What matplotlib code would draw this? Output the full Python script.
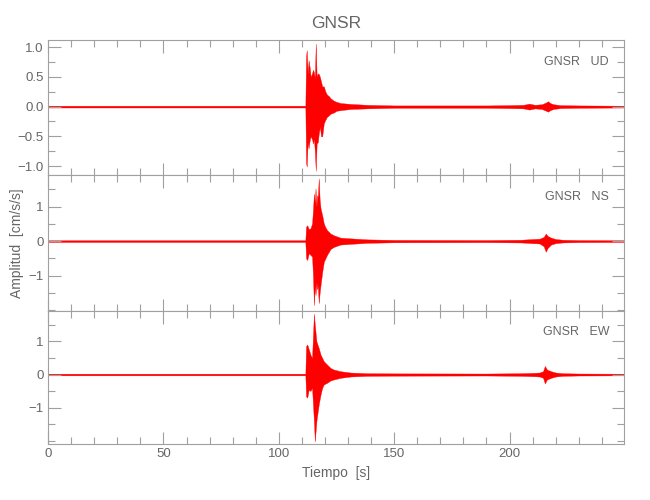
import matplotlib
matplotlib.use("Agg")
import matplotlib.pyplot as plt
from matplotlib.ticker import MultipleLocator, FixedLocator

# envelope of each trace (time [s], upper, lower)
ud_t = [0, 50, 100, 111.5, 111.8, 112.1, 112.5, 112.9, 113.4, 113.8, 114.4, 114.8, 115.2, 115.6,
        116.0, 116.4, 116.9, 117.3, 117.8, 118.3, 118.8, 119.5, 120.2, 120.9, 121.6, 122.4, 123.8,
        125.0, 126.7, 131.1, 138.3, 150, 190, 200, 206, 208.5, 211, 214, 215.8, 216.7, 217.6, 219,
        222, 230, 250]
ud_up = [0.015, 0.015, 0.015, 0.015, 0.85, 0.95, 0.55, 0.78, 0.65, 0.50, 0.56, 0.62, 0.58, 0.48,
         1.06, 0.50, 0.56, 0.55, 0.50, 0.42, 0.34, 0.34, 0.25, 0.20, 0.18, 0.14, 0.10,
         0.08, 0.06, 0.045, 0.03, 0.02, 0.02, 0.025, 0.03, 0.05, 0.03, 0.04, 0.07, 0.09, 0.06, 0.04,
         0.025, 0.02, 0.015]
ud_lo = [-0.015, -0.015, -0.015, -0.015, -0.95, -1.01, -0.60, -0.70, -0.56, -0.50, -0.55, -0.62, -0.55, -0.75,
         -1.08, -0.62, -0.60, -0.45, -0.34, -0.50, -0.50, -0.28, -0.22, -0.17, -0.15, -0.12, -0.10,
         -0.07, -0.06, -0.04, -0.03, -0.02, -0.02, -0.025, -0.03, -0.05, -0.03, -0.04, -0.07, -0.085, -0.06, -0.04,
         -0.025, -0.02, -0.015]

ns_t = [0, 50, 100, 111.5, 111.8, 112.3, 113.0, 113.7, 114.4, 114.8, 115.2, 115.6, 115.9, 116.3,
        116.6, 116.9, 117.3, 117.7, 118.1, 118.8, 119.5, 120.2, 120.9, 122.4, 123.8, 126.7, 131.1,
        138.3, 150, 190, 205, 210, 213, 214.8, 215.7, 216.5, 218, 220, 223, 230, 250]
ns_up = [0.025, 0.025, 0.025, 0.025, 0.42, 0.46, 0.35, 0.37, 0.51, 0.90, 1.38, 1.10, 1.53, 1.00,
         1.33, 1.30, 1.82, 1.20, 0.95, 0.75, 0.51, 0.40, 0.32, 0.22, 0.17, 0.10, 0.08,
         0.05, 0.035, 0.03, 0.04, 0.06, 0.07, 0.12, 0.22, 0.15, 0.10, 0.06, 0.04, 0.03, 0.025]
ns_lo = [-0.025, -0.025, -0.025, -0.025, -0.50, -0.55, -0.35, -0.40, -0.45, -1.00, -1.86, -1.30, -1.57, -1.20,
         -1.40, -1.30, -1.80, -1.50, -1.27, -0.90, -0.60, -0.50, -0.40, -0.23, -0.17, -0.10, -0.08,
         -0.05, -0.035, -0.03, -0.04, -0.06, -0.07, -0.15, -0.31, -0.20, -0.10, -0.06, -0.04, -0.03, -0.025]

ew_t = [0, 50, 100, 111.5, 111.8, 112.3, 113.0, 113.7, 114.4, 115.2, 115.6, 116.3, 117.3, 118.1,
        118.8, 119.5, 120.9, 122.4, 123.8, 126.7, 131.1, 138.3, 150, 190, 205, 210, 213, 214.5,
        215.3, 216.2, 218, 220, 223, 230, 250]
ew_up = [0.025, 0.025, 0.025, 0.025, 0.86, 0.91, 0.76, 0.60, 0.50, 1.84, 1.50, 1.00, 0.80, 0.60,
         0.50, 0.40, 0.30, 0.20, 0.15, 0.10, 0.06, 0.04, 0.035, 0.03, 0.04, 0.05, 0.06, 0.10,
         0.26, 0.15, 0.10, 0.06, 0.04, 0.03, 0.025]
ew_lo = [-0.025, -0.025, -0.025, -0.025, -0.66, -0.70, -0.45, -0.50, -0.40, -1.41, -2.02, -1.40, -0.90, -0.60,
         -0.40, -0.30, -0.25, -0.18, -0.15, -0.10, -0.06, -0.04, -0.035, -0.03, -0.04, -0.05, -0.06, -0.10,
         -0.27, -0.15, -0.10, -0.06, -0.04, -0.03, -0.025]

components = ["UD", "NS", "EW"]
station = "GNSR"
x_ticks = [0, 50, 100, 150, 200]

GRAY = "#666666"
AXCOL = "#a0a0a0"
plt.rcParams['font.family'] = ['Liberation Sans Narrow', 'Liberation Sans', 'DejaVu Sans']


def style_axis(ax, ylim, yticks, yminor):
    ax.set_xlim(0, 249.6)
    ax.set_ylim(*ylim)
    ax.xaxis.set_major_locator(FixedLocator(x_ticks))
    ax.xaxis.set_minor_locator(MultipleLocator(10))
    ax.yaxis.set_major_locator(FixedLocator(yticks))
    ax.yaxis.set_minor_locator(MultipleLocator(yminor))
    ax.tick_params(which='both', direction='in', top=True, right=True, color=AXCOL,
                   labelcolor=GRAY, labelsize=9.5, width=0.8, pad=3)
    ax.tick_params(which='major', length=9)
    ax.tick_params(which='minor', length=5)
    for s in ax.spines.values():
        s.set_color(AXCOL)
        s.set_linewidth(0.8)


def main():
    fig, axes = plt.subplots(3, 1, figsize=(6.5, 5), dpi=100, sharex=True,
                             gridspec_kw={'height_ratios': [135, 136, 133]})
    fig.subplots_adjust(left=0.074, right=0.96, top=0.92, bottom=0.112, hspace=0)

    traces = [(ud_t, ud_up, ud_lo), (ns_t, ns_up, ns_lo), (ew_t, ew_up, ew_lo)]
    limits = [(-1.15, 1.12), (-2.03, 1.92), (-2.1, 1.92)]
    yticks = [[-1, -0.5, 0, 0.5, 1], [-1, 0, 1], [-1, 0, 1]]
    minors = [0.25, 0.5, 0.5]

    for ax, (t, up, lo), comp, lim, yt, mn in zip(axes, traces, components, limits, yticks, minors):
        ax.fill_between(t, lo, up, color='red', edgecolor='red', linewidth=0.25)
        style_axis(ax, lim, yt, mn)
        ax.text(0.974, 0.84, station + "   " + comp, transform=ax.transAxes,
                ha='right', va='center', fontsize=9, color=GRAY)

    for ax in axes[:-1]:
        ax.tick_params(labelbottom=False)

    axes[0].set_title(station, fontsize=12.5, color=GRAY, pad=9)
    axes[1].set_ylabel("Amplitud  [cm/s/s]", fontsize=10, color=GRAY)
    axes[1].yaxis.set_label_coords(-0.042, 0.5)
    axes[2].set_xlabel("Tiempo  [s]", fontsize=10, color=GRAY, labelpad=4)

    fig.savefig("out.png", dpi=100)


if __name__ == '__main__':
    main()
